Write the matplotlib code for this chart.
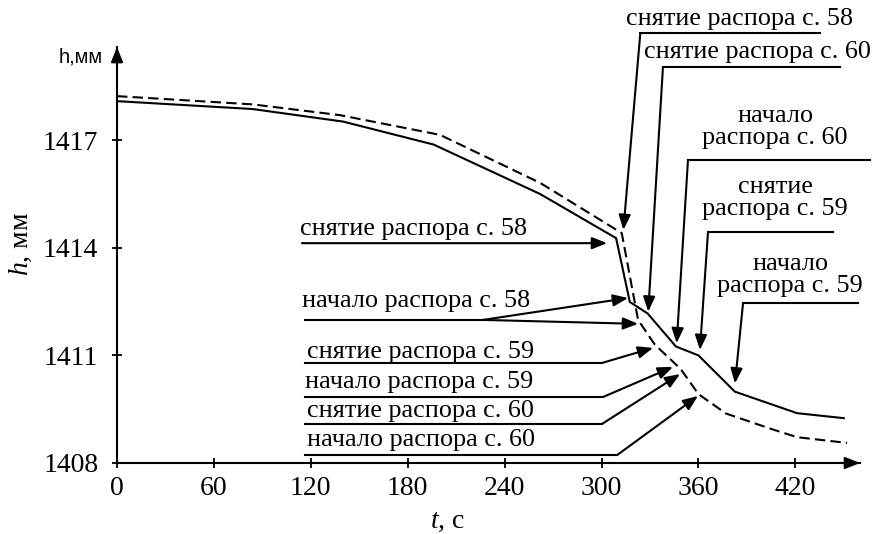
import matplotlib
matplotlib.use("Agg")
import matplotlib.pyplot as plt

plt.rcParams['font.family'] = ['Liberation Serif', 'DejaVu Serif']
plt.rcParams['mathtext.fontset'] = 'custom'
plt.rcParams['mathtext.it'] = 'Liberation Serif:italic'
plt.rcParams['mathtext.rm'] = 'Liberation Serif'

# ---- data ----
t_solid = [0, 0, 84, 140, 196, 262, 309, 317.5, 328.5, 346, 360, 382.5, 421, 450]
h_solid = [1417.36, 1418.09, 1417.87, 1417.52, 1416.88, 1415.50, 1414.27, 1412.49,
           1412.17, 1411.25, 1411.00, 1409.99, 1409.39, 1409.25]
t_dash = [0, 84, 138, 200, 262, 312.5, 322.6, 333, 349, 360, 377, 405, 421, 452]
h_dash = [1418.23, 1418.00, 1417.70, 1417.15, 1415.81, 1414.41, 1411.99, 1411.30,
          1410.62, 1409.92, 1409.38, 1408.95, 1408.72, 1408.56]

x_ticks = [0, 60, 120, 180, 240, 300, 360, 420]
y_ticks = [1408, 1411, 1414, 1417]

# left-hand labels: text, text pos (t, baseline h), underline h, underline start t, kink t, arrow tips
left_labels = [
    ("снятие распора с. 58", (113.3, 1414.36), 1414.13, 114.5, None, [(303.4, 1414.13)]),
    ("начало распора с. 58", (114.5, 1412.35), 1411.99, 116.4, 226.6, [(316.4, 1412.60), (322.6, 1411.88)]),
    ("снятие распора с. 59", (117.6, 1410.93), 1410.79, 116.4, 300.3, [(331.9, 1411.21)]),
    ("начало распора с. 59", (116.4, 1410.09), 1409.84, 116.4, 300.9, [(344.2, 1410.68)]),
    ("снятие распора с. 60", (117.6, 1409.28), 1409.09, 116.4, 300.3, [(348.6, 1410.48)]),
    ("начало распора с. 60", (117.6, 1408.47), 1408.22, 116.4, 309.6, [(359.7, 1409.87)]),
]
# right-hand labels: text, center t, last-line baseline h, underline h, underline t0, t1, tip
right_labels = [
    ("снятие распора с. 58", 385.7, 1420.21, 1419.99, 324.0, 435.2, (313.5, 1414.50)),
    ("снятие распора с. 60", 396.2, 1419.29, 1419.04, 338.0, 447.6, (328.9, 1412.22)),
    ("начало\nраспора с. 60", 407.4, 1416.90, 1416.45, 353.5, 466.2, (346.5, 1411.34)),
    ("снятие\nраспора с. 59", 407.4, 1414.92, 1414.44, 365.9, 443.3, (360.9, 1411.15)),
    ("начало\nраспора с. 59", 416.7, 1412.77, 1412.46, 387.6, 458.8, (382.6, 1410.22)),
]

W, H = 876, 534
fig = plt.figure(figsize=(W / 100, H / 100), dpi=100)
ax = fig.add_axes([117 / W, 1 - 463 / H, (860 - 117) / W, (463 - 47) / H])

lw = 1.5
ax.plot(t_solid, h_solid, color='k', lw=lw, solid_joinstyle='miter')
ax.plot(t_dash, h_dash, color='k', lw=lw, dashes=(5, 2.5))

ax.set_xlim(0, 460)
ax.set_ylim(1408, 1419.6)
ax.set_xticks(x_ticks)
ax.set_yticks(y_ticks)
ax.tick_params(axis='both', direction='inout', length=7, width=1.3, labelsize=20)
ax.tick_params(axis='x', pad=6)
ax.tick_params(axis='y', pad=10)
for s in ['top', 'right']:
    ax.spines[s].set_visible(False)
for s in ['left', 'bottom']:
    ax.spines[s].set_linewidth(lw)

head = '-|>,head_length=0.45,head_width=0.18'
def arrow(p0, p1, coords='data'):
    ax.annotate('', xy=p1, xytext=p0, xycoords=coords, textcoords=coords,
                arrowprops=dict(arrowstyle=head, mutation_scale=20, lw=lw, color='k',
                                shrinkA=0, shrinkB=0),
                annotation_clip=False)

# axis arrows
arrow((0, 0.97), (0, 1.0), coords='axes fraction')
arrow((0.97, 0), (1.0, 0), coords='axes fraction')

fs = 18.8
for text, (tx, ty), hu, t0, tk, tips in left_labels:
    ax.text(tx, ty, text, fontsize=fs, ha='left', va='baseline')
    if tk is None:
        arrow((t0, hu), tips[0])
    else:
        ax.plot([t0, tk], [hu, hu], color='k', lw=lw, clip_on=False)
        for tip in tips:
            arrow((tk, hu), tip)

for text, tc, tb, hu, t0, t1, tip in right_labels:
    ax.text(tc, tb, text, fontsize=fs, ha='center', va='baseline', multialignment='center',
            linespacing=0.98)
    ax.plot([t0, t1], [hu, hu], color='k', lw=lw, clip_on=False)
    arrow((t0, hu), tip)

fig.text(103 / W, 1 - 62 / H, "h,мм", fontsize=14.5, family=['Liberation Sans', 'DejaVu Sans'],
         ha='right', va='baseline')
fig.text(21 / W, 1 - 244 / H, r"$h$, мм", fontsize=20, rotation=90, ha='center', va='center')
fig.text(448 / W, 1 - 521 / H, r"$t$, с", fontsize=20, ha='center', va='center')

fig.savefig("out.png", dpi=100)
